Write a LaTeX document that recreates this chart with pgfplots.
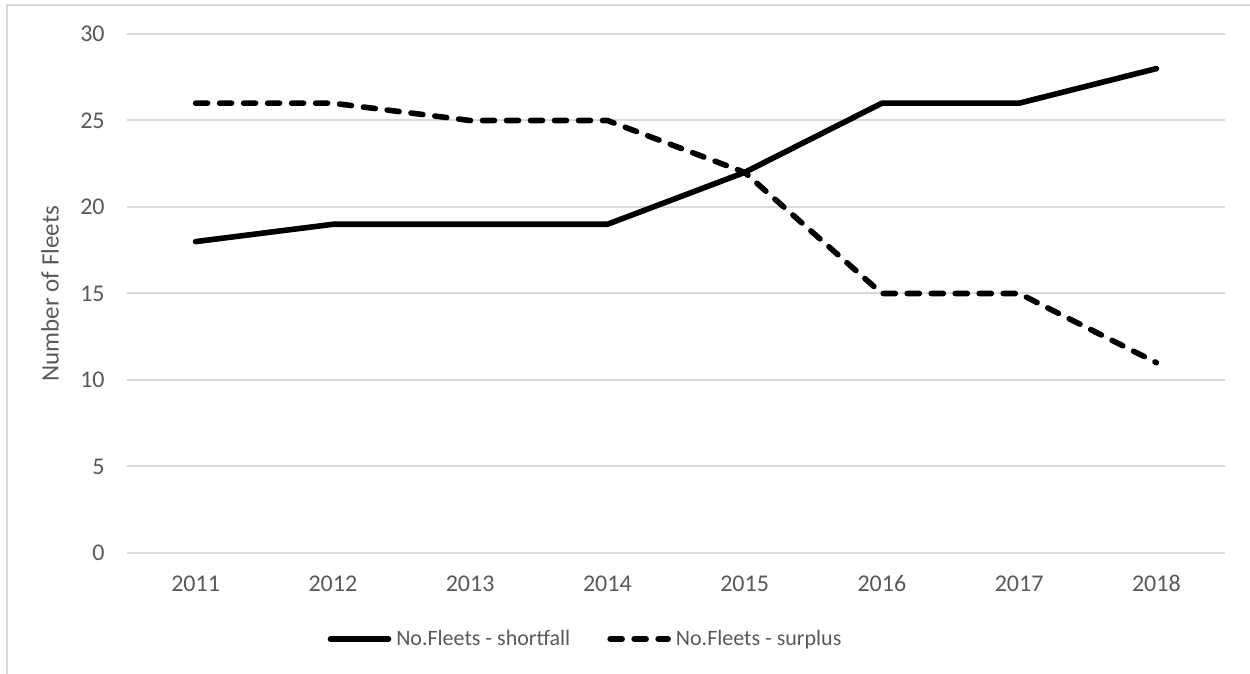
\documentclass[border=0pt]{standalone}
\usepackage{fontspec}
\setmainfont{Carlito}
\usepackage{pgfplots}
\pgfplotsset{compat=1.18}
\definecolor{gridgray}{HTML}{D9D9D9}
\definecolor{txtgray}{HTML}{595959}

\begin{document}
\begin{tikzpicture}
% page is 1250x674 px at 0.5pt per px; axis origin at px (127,553)
\useasboundingbox (-63.5pt,-60.5pt) rectangle (561.5pt,276.5pt);
\draw[gridgray, line width=1pt] (-60pt,-70pt) -- (-60pt,274pt) -- (570pt,274pt);
\begin{axis}[
    at={(0pt,0pt)}, anchor=south west,
    width=549pt, height=259.5pt,
    scale only axis,
    xmin=-0.5, xmax=7.5,
    ymin=0, ymax=30,
    xtick={0,1,2,3,4,5,6,7},
    xticklabels={2011,2012,2013,2014,2015,2016,2017,2018},
    ytick={0,5,10,15,20,25,30},
    ymajorgrids,
    major grid style={gridgray, line width=1pt},
    axis line style={draw=none},
    major tick length=0pt,
    tick label style={font=\fontsize{12}{14}\selectfont, text=txtgray},
    /pgf/number format/assume math mode=true,
    yticklabel style={inner sep=0pt, anchor=east, xshift=-11pt},
    xticklabel style={inner sep=0pt, anchor=north, text height=8pt, text depth=0pt, yshift=-11pt},
    ylabel={Number of Fleets},
    ylabel style={at={(axis description cs:-0.0701,0.5)}, anchor=center,
        font=\fontsize{12.5}{14}\selectfont, text=txtgray},
    legend columns=2,
    legend style={at={(0.419,-0.1657)}, anchor=center, draw=none, fill=none,
        font=\fontsize{11}{13}\selectfont, text=txtgray,
        /tikz/every even column/.append style={column sep=16pt},
        nodes={inner sep=2.5pt}},
    legend image code/.code={\draw[#1] (0pt,0pt) -- (29pt,0pt);},
    clip=false,
]
\addplot[black, line width=2.8pt, line cap=round, line join=round]
    coordinates {(0,18) (1,19) (2,19) (3,19) (4,22) (5,26) (6,26) (7,28)};
\addlegendentry{No.Fleets - shortfall}
\addplot[black, line width=2.8pt, line cap=round, line join=round, dash pattern=on 6pt off 6pt]
    coordinates {(0,26) (1,26) (2,25) (3,25) (4,22) (5,15) (6,15) (7,11)};
\addlegendentry{No.Fleets - surplus}
\end{axis}
\end{tikzpicture}
\end{document}
